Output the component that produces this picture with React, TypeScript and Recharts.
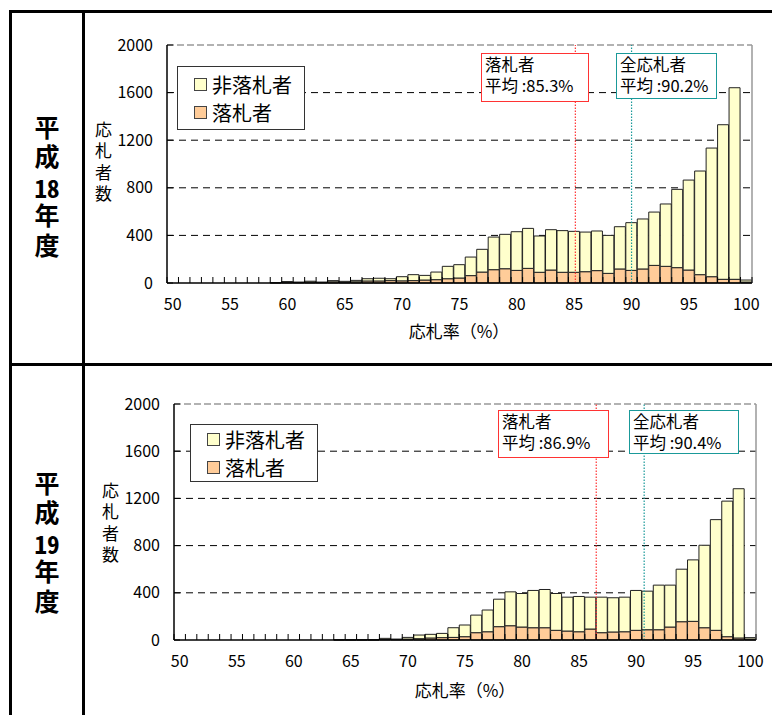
import React from 'react';
import { BarChart, Bar, XAxis, YAxis, CartesianGrid, ReferenceLine, Legend } from 'recharts';

const FONT = '"Noto Sans CJK JP", "Noto Sans", sans-serif';

const COLORS = {
    lose: '#FFFFCC',
    win: '#FFCC99',
    edge: '#222222',
    red: '#FF3333',
    teal: '#1A9999',
};

// 応札率 categories 50..100 (%)
const rates = [
    50, 51, 52, 53, 54, 55, 56, 57, 58, 59,
    60, 61, 62, 63, 64, 65, 66, 67, 68, 69,
    70, 71, 72, 73, 74, 75, 76, 77, 78, 79,
    80, 81, 82, 83, 84, 85, 86, 87, 88, 89,
    90, 91, 92, 93, 94, 95, 96, 97, 98, 99,
    100,
];

// 平成18年度
const win18 = [
    0, 0, 0, 0, 0, 0, 0, 0, 0, 2,
    6, 4, 8, 4, 10, 7, 10, 17, 17, 20,
    18, 20, 25, 28, 36, 42, 62, 92, 112, 120,
    106, 123, 90, 109, 90, 90, 95, 104, 81, 118,
    106, 118, 148, 140, 129, 109, 70, 53, 31, 31,
    8,
];
const lose18 = [
    0, 0, 0, 0, 0, 0, 0, 0, 0, 2,
    6, 4, 7, 4, 10, 7, 12, 19, 23, 16,
    35, 50, 39, 64, 104, 112, 156, 191, 274, 289,
    325, 336, 305, 339, 350, 344, 333, 333, 319, 355,
    401, 420, 448, 524, 658, 756, 871, 1081, 1299, 1610,
    17,
];

// 平成19年度
const win19 = [
    0, 0, 0, 0, 0, 0, 0, 0, 0, 0,
    0, 0, 0, 0, 1, 1, 1, 1, 5, 4,
    8, 11, 17, 20, 22, 28, 62, 70, 113, 121,
    110, 104, 104, 82, 76, 70, 93, 62, 68, 70,
    82, 87, 87, 110, 155, 158, 104, 82, 28, 17,
    8,
];
const lose19 = [
    0, 0, 0, 0, 0, 0, 0, 0, 0, 0,
    0, 0, 0, 0, 2, 1, 2, 2, 9, 4,
    14, 31, 31, 36, 82, 99, 149, 184, 233, 287,
    284, 316, 324, 312, 287, 299, 270, 301, 290, 293,
    338, 327, 378, 355, 445, 521, 699, 938, 1149, 1265,
    12,
];

const yTicks = [0, 400, 800, 1200, 1600, 2000];
const gridValues = [400, 800, 1200, 1600];
// category edges for the small inward ticks on the x axis
const edges = Array.from({ length: 52 }, (_, i) => 49.5 + i);

const NoLabel = () => <g />;

function LegendBox({ payload, pad }: any) {
    const items = [...(payload || [])].reverse();
    return (
        <div style={{ border: '1px solid #333', background: '#fff', padding: `${pad}px 12px ${pad}px 16px`, fontFamily: FONT, fontSize: 20, color: '#000' }}>
            {items.map((p: any) => (
                <div key={p.value} style={{ display: 'flex', alignItems: 'center', height: 28 }}>
                    <span style={{ width: 11, height: 11, background: p.color, border: '1px solid #444', marginRight: 5, display: 'inline-block' }} />
                    <span>{p.value}</span>
                </div>
            ))}
        </div>
    );
}

function Note({ left, top, width, height, color, title, mean }: any) {
    return (
        <div style={{
            position: 'absolute', left, top, width, height, boxSizing: 'border-box',
            border: `1.5px solid ${color}`, background: '#fff', fontFamily: FONT, whiteSpace: 'pre-line',
            fontSize: 16.5, lineHeight: '21px', padding: '0 0 0 3px', color: '#000',
        }}>
            {`${title}\n平均 :${mean}`}
        </div>
    );
}

// vertical (tategaki) text; digits kept upright side by side
function Tate({ left, top, text, digits, size, spacing, bold }: any) {
    const parts = digits ? text.split(digits) : [text];
    return (
        <div style={{
            position: 'absolute', left, top, writingMode: 'vertical-rl', lineHeight: '40px', width: 40,
            fontFamily: FONT, fontSize: size, letterSpacing: spacing, fontWeight: bold ? 700 : 400, color: '#000',
        }}>
            {parts[0]}
            {digits ? <span style={{ textCombineUpright: 'all', paddingBottom: spacing } as any}>{digits}</span> : null}
            {digits ? parts[1] : null}
        </div>
    );
}

function Panel({ win, lose, top, height, margin, yWidth, winMean, allMean, legendPos }: any) {
    const rows = rates.map((r, i) => ({ rate: String(r), x: r, win: win[i], lose: lose[i] }));
    return (
        <div style={{ position: 'absolute', left: 87, top }}>
            <BarChart width={685} height={height} data={rows} margin={margin} barCategoryGap={0}>
                <CartesianGrid vertical={false} horizontalValues={gridValues} stroke="#000" strokeDasharray="7 5" />
                {/* numeric axis (id 0, nearest the plot): edge ticks, axis line, mean lines */}
                <XAxis xAxisId={0} type="number" dataKey="x" domain={[49.5, 100.5]} ticks={edges} interval={0}
                    tick={NoLabel} tickSize={-6} height={1} allowDataOverflow
                    axisLine={{ stroke: '#000', strokeWidth: 1.5 }} tickLine={{ stroke: '#000' }} />
                <XAxis xAxisId="cat" dataKey="rate" interval={4} tickLine={false} axisLine={false} tickSize={0} tickMargin={15}
                    height={30} tick={{ fill: '#000', fontSize: 16, fontFamily: FONT }} />
                <YAxis domain={[0, 2000]} ticks={yTicks} interval={0} width={yWidth} tickSize={-6} tickMargin={20}
                    axisLine={{ stroke: '#000', strokeWidth: 1.5 }} tickLine={{ stroke: '#000' }}
                    tick={{ fill: '#000', fontSize: 16, fontFamily: FONT }} />
                <ReferenceLine y={2000} stroke="#999" strokeWidth={1.5} strokeDasharray="7 3" />
                <ReferenceLine x={100.5} stroke="#999" strokeWidth={1.5} />
                <Bar xAxisId="cat" dataKey="win" name="落札者" stackId="a" fill={COLORS.win} stroke={COLORS.edge} strokeWidth={1} isAnimationActive={false} />
                <Bar xAxisId="cat" dataKey="lose" name="非落札者" stackId="a" fill={COLORS.lose} stroke={COLORS.edge} strokeWidth={1} isAnimationActive={false} />
                <ReferenceLine x={winMean} stroke={COLORS.red} strokeWidth={1.2} strokeDasharray="1.5 1.5" />
                <ReferenceLine x={allMean} stroke={COLORS.teal} strokeWidth={1.2} strokeDasharray="1.5 1.5" />
                <Legend layout="horizontal" verticalAlign="middle" align="center" content={<LegendBox pad={legendPos.pad} />}
                    wrapperStyle={{ left: legendPos.left, top: legendPos.top, width: 'auto', height: 'auto' }} />
            </BarChart>
        </div>
    );
}

export default function App() {
    const line = '#000';
    return (
        <div style={{ position: 'absolute', left: 0, top: 0, width: 772, height: 715, overflow: 'hidden', background: '#fff' }}>
            {/* table frame */}
            <div style={{ position: 'absolute', left: 9, top: 10, width: 763, height: 3, background: line }} />
            <div style={{ position: 'absolute', left: 9, top: 363, width: 763, height: 3, background: line }} />
            <div style={{ position: 'absolute', left: 9, top: 10, width: 3, height: 705, background: line }} />
            <div style={{ position: 'absolute', left: 82, top: 10, width: 3, height: 705, background: line }} />

            <Tate left={27} top={115} text="平成18年度" digits="18" size={25} spacing={4.4} bold />
            <Tate left={27} top={471} text="平成19年度" digits="19" size={25} spacing={4.4} bold />

            <Panel win={win18} lose={lose18} top={20} height={340}
                margin={{ top: 25, right: 20, bottom: 46, left: 0 }} yWidth={80}
                winMean={85.1} allMean={90.0} legendPos={{ left: 90, top: 46, pad: 3 }} />
            <Panel win={win19} lose={lose19} top={380} height={335}
                margin={{ top: 24, right: 16, bottom: 44, left: 0 }} yWidth={87}
                winMean={86.5} allMean={90.7} legendPos={{ left: 103, top: 44, pad: 0 }} />

            <Tate left={83} top={121} text="応札者数" size={17} spacing={4.3} />
            <Tate left={90} top={482} text="応札者数" size={17} spacing={4.3} />

            <Note left={481} top={53} width={108} height={49} color={COLORS.red} title="落札者" mean="85.3%" />
            <Note left={616} top={53} width={101} height={46} color={COLORS.teal} title="全応札者" mean="90.2%" />
            <Note left={498} top={410} width={111} height={48} color={COLORS.red} title="落札者" mean="86.9%" />
            <Note left={629} top={410} width={110} height={44} color={COLORS.teal} title="全応札者" mean="90.4%" />

            <div style={{ position: 'absolute', left: 359, top: 318, width: 200, textAlign: 'center', fontFamily: FONT, fontSize: 17, color: '#000' }}>応札率（%）</div>
            <div style={{ position: 'absolute', left: 365, top: 677, width: 200, textAlign: 'center', fontFamily: FONT, fontSize: 17, color: '#000' }}>応札率（%）</div>
        </div>
    );
}
